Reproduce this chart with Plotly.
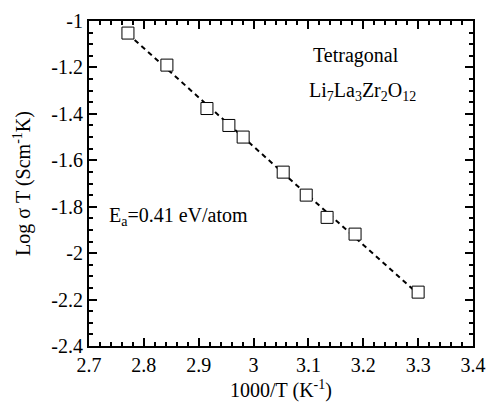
import numpy as np
import plotly.graph_objects as go

inv_T = [2.771, 2.842, 2.915, 2.955, 2.981, 3.054, 3.096, 3.134, 3.185, 3.300]
log_sigma_T = [-1.052, -1.19, -1.377, -1.450, -1.500, -1.651, -1.750, -1.846, -1.918, -2.168]

x_ticks = [2.7, 2.8, 2.9, 3.0, 3.1, 3.2, 3.3, 3.4]
x_tick_labels = ["2.7", "2.8", "2.9", "3", "3.1", "3.2", "3.3", "3.4"]
y_ticks = [-2.4, -2.2, -2.0, -1.8, -1.6, -1.4, -1.2, -1.0]
y_tick_labels = ["-2.4", "-2.2", "-2", "-1.8", "-1.6", "-1.4", "-1.2", "-1"]

# linear fit line through the data
coef = np.polyfit(inv_T, log_sigma_T, 1)
fit_x = [min(inv_T), max(inv_T)]
fit_y = [float(np.polyval(coef, v)) for v in fit_x]

FONT = "Liberation Serif, Times New Roman, serif"

fig = go.Figure()
fig.add_trace(go.Scatter(x=fit_x, y=fit_y, mode="lines",
                         line=dict(color="black", width=2, dash="5px,4px"),
                         showlegend=False, hoverinfo="skip"))
fig.add_trace(go.Scatter(x=inv_T, y=log_sigma_T, mode="markers",
                         marker=dict(symbol="square", size=12, color="white",
                                     line=dict(color="black", width=1)),
                         showlegend=False))

axis_common = dict(showgrid=False, zeroline=False, showline=True, linecolor="black",
                   linewidth=2, mirror="ticks", ticks="inside", tickcolor="black",
                   tickwidth=2, ticklen=8, automargin=False,
                   tickfont=dict(family=FONT, size=20, color="black"))

fig.update_xaxes(range=[2.7, 3.4], tickvals=x_ticks, ticktext=x_tick_labels,
                 minor=dict(dtick=0.02, tick0=2.7, ticks="inside", ticklen=4,
                            tickwidth=2, tickcolor="black"),
                 title=dict(text="1000/T (K<sup>-1</sup>)",
                            font=dict(family=FONT, size=20, color="black"), standoff=8),
                 **axis_common)
fig.update_yaxes(range=[-2.4, -1.0], tickvals=y_ticks, ticktext=y_tick_labels,
                 minor=dict(dtick=0.05, tick0=-2.4, ticks="inside", ticklen=4,
                            tickwidth=2, tickcolor="black"),
                 title=dict(text="Log σ T (Scm<sup>-1</sup>K)",
                            font=dict(family=FONT, size=20, color="black"), standoff=15),
                 **axis_common)

ann_font = dict(family=FONT, size=20, color="black")
fig.add_annotation(x=3.187, y=-1.147, xref="x", yref="y", text="Tetragonal",
                   showarrow=False, font=ann_font)
fig.add_annotation(x=3.199, y=-1.305, xref="x", yref="y",
                   text="Li<sub>7</sub>La<sub>3</sub>Zr<sub>2</sub>O<sub>12</sub>",
                   showarrow=False, font=ann_font)
fig.add_annotation(x=2.733, y=-1.84, xref="x", yref="y", xanchor="left",
                   text="E<sub>a</sub>=0.41 eV/atom",
                   showarrow=False, font=ann_font)

fig.update_layout(width=486, height=403, plot_bgcolor="white", paper_bgcolor="white",
                  margin=dict(l=89, r=13, t=21, b=57))

# remove the browser's default 8px body margin so the figure fills the window
fig.write_html("out.html", config={"displayModeBar": False},
               post_script="document.body.style.margin='0';")
